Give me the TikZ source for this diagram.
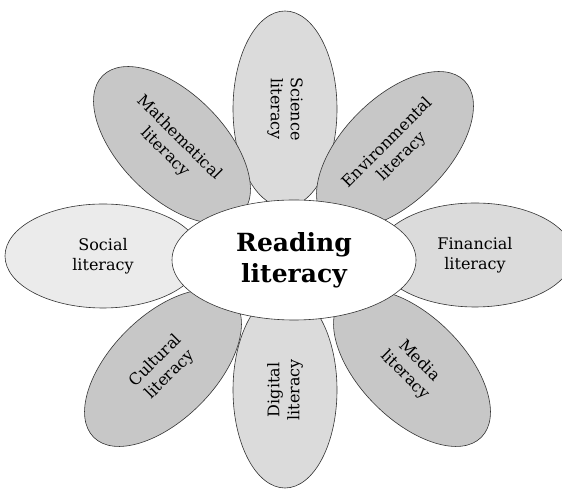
\documentclass[tikz,border=0pt]{standalone}
\usepackage{fontspec}
\setmainfont{DejaVu Serif}
\usetikzlibrary{shapes.geometric}
\definecolor{petaldark}{gray}{0.78}
\definecolor{petalmid}{gray}{0.86}
\definecolor{petallight}{gray}{0.92}
\tikzset{
  petal/.style={ellipse, draw=black!80, line width=0.6pt, minimum width=196pt,
    minimum height=104pt, inner sep=0pt, align=center,
    font=\fontsize{16}{20}\selectfont},
  core/.style={ellipse, draw=black!80, fill=white, line width=0.6pt,
    minimum width=244pt, minimum height=120pt, inner sep=0pt, align=center,
    font=\fontsize{25}{31}\selectfont\bfseries},
}

\begin{document}
\begin{tikzpicture}[x=1pt,y=1pt]

  \useasboundingbox (0,0) rectangle (562,489);

  % petals, back to front
  \node[petal, fill=petaldark, rotate=45] (cultural) at (163,121) {Cultural\\literacy};
  \node[petal, fill=petaldark, rotate=-45] (media) at (412,121) {Media\\literacy};
  \node[petal, fill=petalmid, rotate=90] (digital) at (285,99) {Digital\\literacy};
  \node[petal, fill=petalmid, rotate=-90] (science) at (285,380) {Science\\literacy};
  \node[petal, fill=petallight] (social) at (103,233) {Social\\literacy};
  \node[petal, fill=petalmid] (financial) at (475,234) {Financial\\literacy};
  \node[petal, fill=petaldark, rotate=-45] (maths) at (172,344) {Mathematical\\literacy};
  \node[petal, fill=petaldark, rotate=45] (environmental) at (395,339) {Environmental\\literacy};

  % centre
  \node[core] (reading) at (294,229) {Reading\\literacy};

\end{tikzpicture}
\end{document}
